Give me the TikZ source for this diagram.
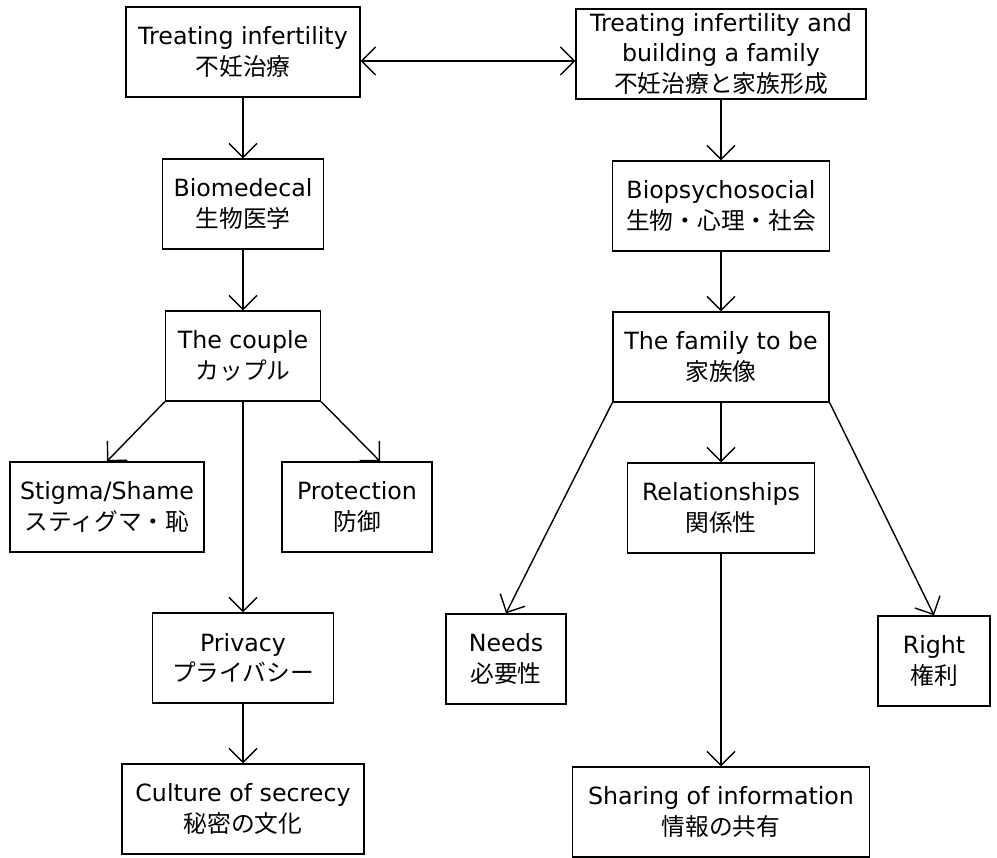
\documentclass[tikz,border=0pt]{standalone}
\usepackage{fontspec}
\setmainfont{DejaVu Sans}
\newfontfamily\jp{Noto Sans CJK JP}
\usepackage{tikz}
\usetikzlibrary{arrows.meta,positioning}

\begin{document}
\begin{tikzpicture}[x=0.02cm,y=-0.02cm,inner sep=0pt]
  \tikzstyle{b}=[draw,line width=0.8pt,align=center,minimum height=1.8cm]\fontsize{13.5}{17.5}\selectfont
  \useasboundingbox(0,0)rectangle(997,858);
  \node[b,minimum width=4.68cm](tif)at(243,52){Treating infertility\\{\jp 不妊治療}};
  \node[b,minimum width=5.8cm](tbf)at(721,54){Treating infertility and\\building a family\\{\jp 不妊治療と家族形成}};
  \node[b,minimum width=3.22cm](bmed)at(243,204){Biomedecal\\{\jp 生物医学}};
  \node[b,minimum width=4.34cm](bps)at(721,206){Biopsychosocial\\{\jp 生物・心理・社会}};
  \node[b,minimum width=3.1cm](cpl)at(243,356){The couple\\{\jp カップル}};
  \node[b,minimum width=4.32cm](fam)at(721,357){The family to be\\{\jp 家族像}};
  \node[b,minimum width=3.88cm](stig)at(107,507){Stigma/Shame\\{\jp スティグマ・恥}};
  \node[b,minimum width=3cm](prot)at(357,507){Protection\\{\jp 防御}};
  \node[b,minimum width=3.74cm](rel)at(721,508){Relationships\\{\jp 関係性}};
  \node[b,minimum width=3.62cm](priv)at(243,658){Privacy\\{\jp プライバシー}};
  \node[b,minimum width=2.4cm](need)at(506,659){Needs\\{\jp 必要性}};
  \node[b,minimum width=2.24cm](rght)at(934,661){Right\\{\jp 権利}};
  \node[b,minimum width=4.84cm](cult)at(243,809){Culture of secrecy\\{\jp 秘密の文化}};
  \node[b,minimum width=5.94cm](shr)at(721,812){Sharing of information\\{\jp 情報の共有}};
  \tikzstyle{e}=[-{Straight Barb[length=2.8mm,width=5.6mm]},line width=0.8pt]
  \draw[e,{Straight Barb[length=2.8mm,width=5.6mm]}-{Straight Barb[length=2.8mm,width=5.6mm]}]([yshift=-0.18cm]tif.east)--([yshift=-0.18cm]tif.east-|tbf.west);
  \foreach\o/\d in{tif/bmed,bmed/cpl,cpl/priv,priv/cult,tbf/bps,bps/fam,fam/rel,rel/shr}{\draw[e](\o.south)--(\d.north);}
  \foreach\o/\d in{cpl.south west/stig.north,fam.south west/need.north,fam.south east/rght.north}{\draw[e](\o)--(\d);}
  \draw[e](cpl.south east)--([xshift=0.46cm]prot.north);
\end{tikzpicture}
\end{document}
